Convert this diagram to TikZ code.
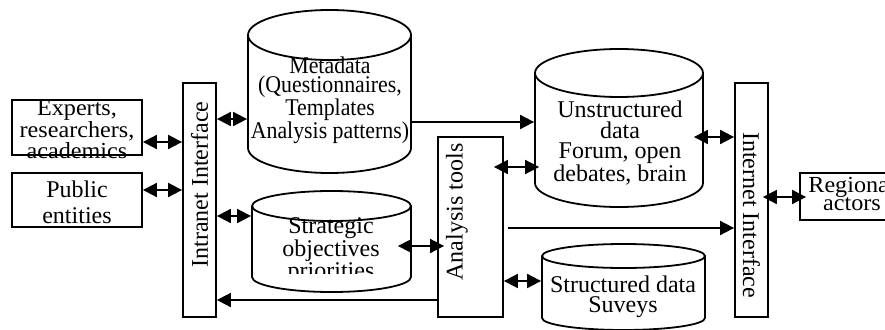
\documentclass[tikz,border=0pt]{standalone}
\usepackage{fontspec}
\setmainfont{Liberation Serif}
\newfontfamily\metafont[FakeStretch=0.91]{Liberation Serif}
\newfontfamily\widefont[FakeStretch=1.05]{Liberation Serif}
\usetikzlibrary{arrows.meta}
\newcommand\mycyl[5]{%
 \pgfmathsetmacro\cyX{(#1+#2)/2}%
 \pgfmathsetmacro\cyR{(#2-#1)/2}%
 \pgfmathsetmacro\cyKx{0.5523*\cyR}%
 \pgfmathsetmacro\cyKy{0.5523*#5}%
 \draw (\cyX,#3) ellipse [x radius=\cyR, y radius=#5];
 \draw (#1,#3) -- (#1,#4) .. controls (#1,#4+\cyKy) and (\cyX-\cyKx,#4+#5) .. (\cyX,#4+#5) .. controls (\cyX+\cyKx,#4+#5) and (#2,#4+\cyKy) .. (#2,#4) -- (#2,#3);}
\begin{document}
\begin{tikzpicture}[x=1pt,y=-1pt, line width=1.8pt,
 box/.style={draw, inner sep=0pt},
 area/.style={inner sep=0pt},
 txt/.style={inner sep=0pt, align=center, font=\fontsize{24}{20}\selectfont},
 both/.style={{Triangle[length=14pt,width=14pt]}-{Triangle[length=14pt,width=14pt]}},
 one/.style={-{Triangle[length=14pt,width=14pt]}}]
\clip (0,0) rectangle (885,329);
% boxes
\node[box, minimum width=130pt, minimum height=55pt] (exp) at (77,127.5) {};
\node[txt, font=\widefont\fontsize{23}{18}\selectfont] (expt) at (77,129.5) {Experts,\\researchers,\\academics};
\node[box, minimum width=130pt, minimum height=54pt] (pub) at (77,200) {};
\node[txt, font=\fontsize{24}{26}\selectfont] (pubt) at (77,202.5) {Public\\entities};
\node[box, minimum width=33pt, minimum height=234pt] (intra) at (199.5,200) {};
\node[txt, rotate=90] (intrat) at (199.5,184.5) {Intranet Interface};
\node[box, minimum width=33pt, minimum height=234pt] (inter) at (751.5,200) {};
\node[txt, rotate=-90] (intert) at (751.5,215) {Internet Interface};
\node[box, minimum width=65pt, minimum height=180pt] (ana) at (470.5,227) {};
\node[txt, rotate=90] (anat) at (457,212) {Analysis tools};
\node[box, minimum width=110pt, minimum height=47pt] (reg) at (855,196.5) {};
\node[txt, font=\widefont\fontsize{23}{18}\selectfont] (regt) at (852,193.5) {Regional\\actors};
% cylinders
\mycyl{248}{411}{35}{148}{25}
\node[area, minimum width=163pt, minimum height=113pt] (meta) at (329.5,91.5) {};
\node[txt, font=\metafont\fontsize{24}{19.5}\selectfont] (metat) at (330,100) {Metadata\\(Questionnaires,\\Templates\\Analysis patterns)};
\mycyl{535}{703}{73}{183}{24}
\node[area, minimum width=168pt, minimum height=110pt] (unstr) at (619,128) {};
\node[txt, font=\fontsize{24}{20.7}\selectfont] (unstrt) at (620,143) {Unstructured\\data\\Forum, open\\debates, brain};
\mycyl{252}{411}{206}{277}{15}
\node[area, minimum width=159pt, minimum height=71pt] (strat) at (331.5,241.5) {};
\begin{scope}
\clip (240,180) rectangle (420,273);
\node[txt, font=\fontsize{24}{19}\selectfont] (stratt) at (331,251) {Strategic\\objectives\\priorities};
\end{scope}
\mycyl{542}{705}{256}{318}{12}
\node[area, minimum width=163pt, minimum height=62pt] (struct) at (623.5,287) {};
\node[txt, font=\fontsize{24}{20}\selectfont] (structt) at (623,297) {Structured data\\Suveys};
% connectors
\draw[both] (exp.east |- 0,142) -- (intra.west |- 0,142);
\draw[both] (pub.east |- 0,190) -- (intra.west |- 0,190);
\draw[both] (intra.east |- 0,119) -- (meta.west |- 0,119);
\draw[both] (intra.east |- 0,216) -- (strat.west |- 0,216);
\draw[one] (ana.west |- 0,300) -- (intra.east |- 0,300);
\draw[both] ([xshift=-14pt]strat.east |- 0,246) -- ([xshift=7pt]ana.west |- 0,246);
\draw[both] ([xshift=-10pt]ana.east |- 0,167) -- ([xshift=5pt]unstr.west |- 0,167);
\draw[one] (meta.east |- 0,122) -- (unstr.west |- 0,122);
\draw[both] ([xshift=-10pt]unstr.east |- 0,137) -- (inter.west |- 0,137);
\draw[one] ([xshift=4pt]ana.east |- 0,228) -- (inter.west |- 0,228);
\draw[both] (ana.east |- 0,281) -- (struct.west |- 0,281);
\draw[both] ([xshift=-6pt]inter.east |- 0,197) -- ([xshift=7pt]reg.west |- 0,197);
\end{tikzpicture}
\end{document}
